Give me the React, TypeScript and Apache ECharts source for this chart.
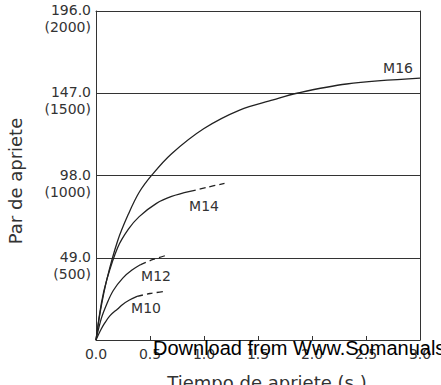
import React, { useEffect, useRef } from "react";
import * as echarts from "echarts";

// Data
const xTickValues = [0, 0.5, 1.0, 1.5, 2.0, 2.5, 3.0];
const yTickValues = [0, 49, 98, 147, 196];
const yTickMain = ["", "49.0", "98.0", "147.0", "196.0"];
const yTickSub = ["", "(500)", "(1000)", "(1500)", "(2000)"];

const m16Solid: [number, number][] = [
  [0, 0], [0.04, 17], [0.1, 36], [0.2, 59], [0.3, 75], [0.4, 88], [0.52, 98.5],
  [0.7, 111], [1.0, 126], [1.33, 137], [1.64, 143], [1.86, 147], [2.32, 152.5], [3.0, 156],
];
const m14Solid: [number, number][] = [
  [0, 0], [0.05, 22], [0.1, 36], [0.2, 55], [0.3, 66], [0.4, 73.5], [0.56, 81.4], [0.7, 85.5], [0.87, 88.5],
];
const m14Dashed: [number, number][] = [[0.87, 88.5], [1.03, 91], [1.19, 93.3]];
const m12Solid: [number, number][] = [
  [0, 0], [0.05, 13], [0.1, 21.5], [0.16, 29.5], [0.25, 37], [0.33, 41.5], [0.41, 44.8],
];
const m12Dashed: [number, number][] = [[0.41, 44.8], [0.53, 48], [0.67, 50.8]];
const m10Solid: [number, number][] = [
  [0, 0], [0.04, 5.5], [0.08, 10], [0.13, 14.5], [0.2, 18.5], [0.25, 21.3], [0.31, 23.8], [0.38, 26],
];
const m10Dashed: [number, number][] = [[0.38, 26], [0.5, 27.7], [0.62, 28.8]];

const curveLabels = [
  { text: "M16", x: 398, y: 68 },
  { text: "M14", x: 204, y: 206 },
  { text: "M12", x: 156, y: 276 },
  { text: "M10", x: 146, y: 308 },
];

const FONT = "DejaVu Sans";
const INK = "#222";
const TXT = "#333";

export default function App() {
  const ref = useRef<HTMLDivElement>(null);
  useEffect(() => {
    if (!ref.current) return;
    const chart = echarts.init(ref.current, undefined, { renderer: "svg" });
    const mk = (name: string, data: [number, number][], dashed: boolean) => ({
      name,
      type: "line",
      xAxisIndex: 0,
      yAxisIndex: 0,
      data,
      smooth: 0.35,
      showSymbol: false,
      symbol: "none",
      lineStyle: { color: INK, width: 1.3, type: dashed ? [6, 4] : "solid" },
      z: 3,
    });
    chart.setOption({
      animation: false,
      grid: {
        left: 96, right: 21, top: 11, bottom: 45,
        outerBoundsMode: "none",
        containLabel: false,
      },
      xAxis: [
        {
          type: "value", min: 0, max: 3, interval: 0.5, position: "bottom",
          axisLine: { show: true, onZero: false, lineStyle: { color: "#333" } },
          axisTick: { show: true, inside: true, length: 4, lineStyle: { color: "#333" } },
          splitLine: { show: false },
          axisLabel: {
            fontSize: 14, fontFamily: FONT, color: TXT, margin: 7,
            formatter: (v: number) => (xTickValues.includes(v) ? v.toFixed(1) : ""),
          },
        },
        {
          type: "value", min: 0, max: 3, interval: 0.5, position: "top",
          axisLine: { show: true, onZero: false, lineStyle: { color: "#333" } },
          axisTick: { show: false }, axisLabel: { show: false }, splitLine: { show: false },
        },
      ],
      yAxis: [
        {
          type: "value", min: 0, max: 196, interval: 49, position: "left",
          axisLine: { show: true, onZero: false, lineStyle: { color: "#333" } },
          axisTick: { show: false },
          splitLine: { show: true, lineStyle: { color: "#333", width: 1 } },
          axisLabel: {
            fontSize: 14, fontFamily: FONT, color: TXT, margin: 5, align: "right",
            formatter: (v: number) => {
              const i = yTickValues.indexOf(v);
              return i > 0 ? `{a|${yTickMain[i]}}\n{b|${yTickSub[i]}}` : "";
            },
            rich: {
              a: { fontSize: 14, fontFamily: FONT, color: TXT, lineHeight: 32, align: "right" },
              b: { fontSize: 14, fontFamily: FONT, color: TXT, lineHeight: 2, align: "right" },
            },
          },
        },
        {
          type: "value", min: 0, max: 196, interval: 49, position: "right",
          axisLine: { show: true, onZero: false, lineStyle: { color: "#333" } },
          axisTick: { show: false }, axisLabel: { show: false }, splitLine: { show: false },
        },
      ],
      series: [
        mk("M16", m16Solid, false),
        mk("M14", m14Solid, false),
        mk("M14d", m14Dashed, true),
        mk("M12", m12Solid, false),
        mk("M12d", m12Dashed, true),
        mk("M10", m10Solid, false),
        mk("M10d", m10Dashed, true),
      ],
      graphic: [
        ...curveLabels.map((l) => ({
          type: "text", x: l.x, y: l.y, z: 10,
          style: { text: l.text, fontSize: 14, fontFamily: FONT, fill: TXT, align: "center", verticalAlign: "middle" },
        })),
        {
          type: "text", x: 15, y: 181, rotation: Math.PI / 2, z: 10,
          style: { text: "Par de apriete", fontSize: 18, fontFamily: FONT, fill: TXT, align: "center", verticalAlign: "middle" },
        },
        {
          type: "text", x: 267, y: 382, z: 10,
          style: { text: "Tiempo de apriete (s.)", fontSize: 18, fontFamily: FONT, fill: TXT, align: "center", verticalAlign: "middle" },
        },
        {
          type: "text", x: 153, y: 348, z: 20,
          style: { text: "Download from Www.Somanuals.com", fontSize: 20, fontFamily: "Liberation Sans", fill: "#000", align: "left", verticalAlign: "middle" },
        },
      ],
    });
    return () => chart.dispose();
  }, []);
  return <div ref={ref} style={{ width: 441, height: 385, position: "absolute", left: 0, top: 0 }} />;
}
